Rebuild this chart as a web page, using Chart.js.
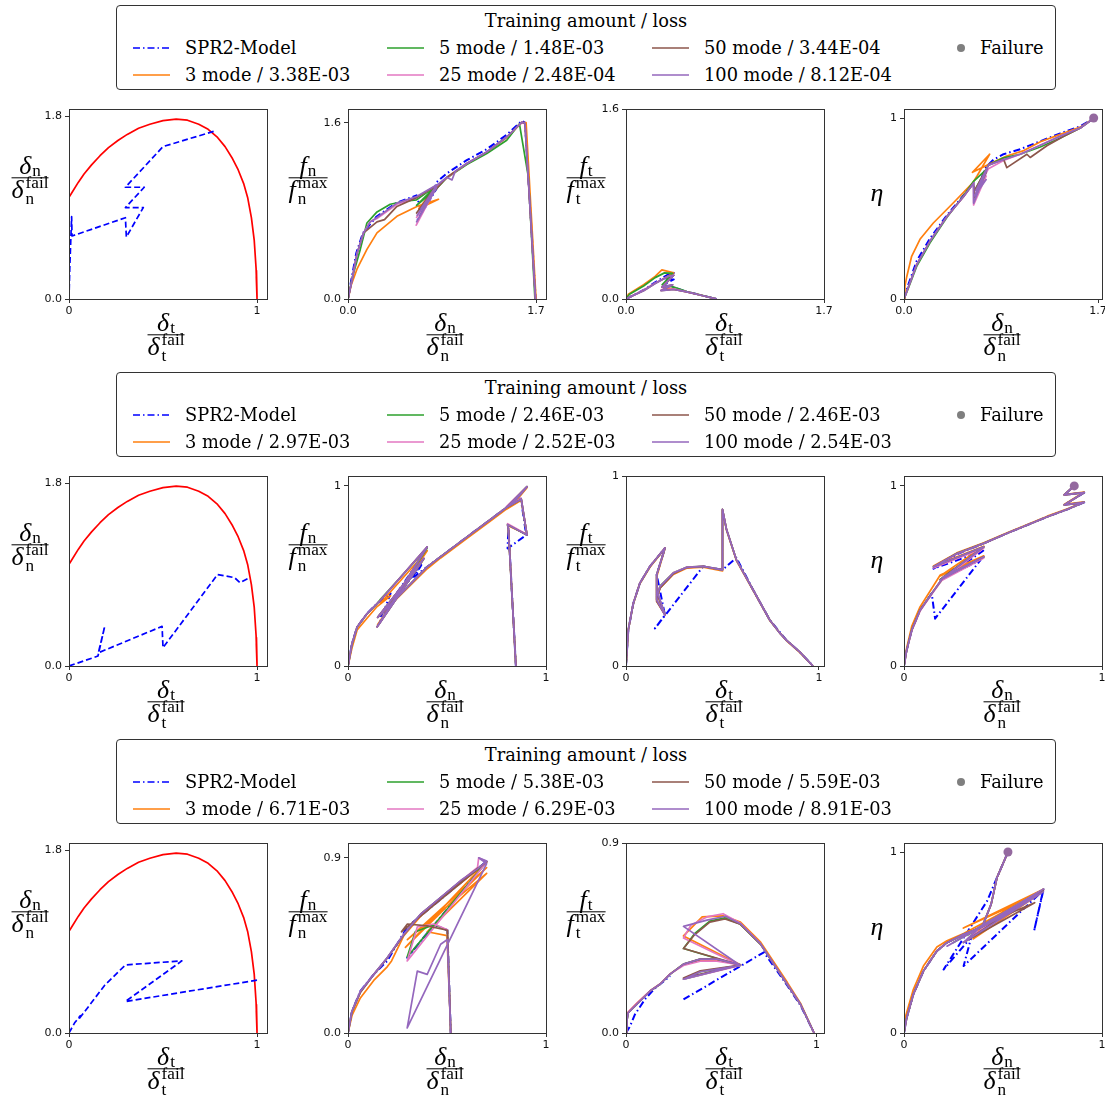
<!DOCTYPE html>
<html>
<head>
<meta charset="utf-8">
<script src="https://cdn.jsdelivr.net/npm/chart.js@4.4.1/dist/chart.umd.min.js"></script>
<style>
  body { margin: 0; background: #fff; }
  #page { position: relative; width: 1105px; height: 1096px; overflow: hidden; background: #fff; }
  canvas { position: absolute; }
  .legend { position: absolute; border: 1px solid #333; border-radius: 4px; box-sizing: border-box;
            font-family: 'DejaVu Serif', serif; font-size: 17.8px; color: #000; }
  .legend .title { position: absolute; left: 0; right: 0; text-align: center; line-height: 1; transform: translateY(-50%); }
  .legend .item { position: absolute; white-space: nowrap; line-height: 1; transform: translateY(-50%); }
  .legend svg { position: absolute; overflow: visible; }
  .math { position: absolute; font-family: 'Liberation Serif', 'DejaVu Serif', serif; font-size: 26px; color: #000;
          transform: translate(-50%, -50%); display: flex; flex-direction: column; align-items: center; }
  .math .part { height: 21px; display: flex; align-items: center; white-space: nowrap; }
  .math .bar { align-self: stretch; height: 1.4px; background: #000; margin: 1px 0; }
  .math i { font-style: italic; }
  .math .sb { font-size: 0.66em; position: relative; top: 0.3em; margin-left: 1px; }
  .math .ss { display: inline-flex; flex-direction: column; font-size: 0.66em; line-height: 0.9; margin-left: 2px; position: relative; top: 0.05em; }
</style>
</head>
<body>
<div id="page"></div>
<script>
// failure envelope (δt, δn), same for every loading case
const envelope = [[0,1.0],[0.02,1.06],[0.05,1.15],[0.08,1.23],[0.12,1.32],[0.165,1.41],[0.21,1.49],[0.26,1.56],
  [0.31,1.62],[0.37,1.68],[0.43,1.72],[0.5,1.755],[0.57,1.77],[0.63,1.76],[0.69,1.72],[0.74,1.67],[0.79,1.59],
  [0.83,1.5],[0.87,1.38],[0.9,1.27],[0.93,1.13],[0.95,1.0],[0.97,0.8],[0.985,0.58],[0.995,0.3],[1.0,0],
  [0.997,0.28],[1.0,0.02],[0.996,0.22],[1.0,0]];

// SPR2 displacement paths (δt, δn)
const r1Path = [[0,0],[0.004,0.3],[0.014,0.81],[0.016,0.62],[0.3,0.8],[0.305,0.61],[0.395,0.9],[0.3,0.9],
  [0.4,1.1],[0.3,1.1],[0.5,1.5],[0.77,1.65]];
const r2Path = [[0,0],[0.154,0.098],[0.19,0.39],[0.156,0.13],[0.495,0.39],[0.5,0.18],[0.79,0.9],[0.88,0.87],
  [0.91,0.82],[0.96,0.87]];
const r3Path = [[0,0],[0.03,0.1],[0.06,0.17],[0.05,0.13],[0.19,0.47],[0.3,0.67],[0.6,0.71],[0.3,0.31],[1.0,0.52]];

// case 1: normal force
const r1FnSpr2 = [[0,0],[0.03,0.175],[0.075,0.417],[0.135,0.598],[0.255,0.745],[0.442,0.875],[0.62,0.94],[0.66,0.8],
  [0.8,1.0],[0.63,0.72],[0.78,0.98],[0.8,1.06],[0.894,1.14],[1.074,1.26],[1.255,1.36],[1.435,1.49],[1.571,1.615],
  [1.6,1.6],[1.697,0]];
const r1FnM3 = [[0,0],[0.03,0.13],[0.081,0.27],[0.171,0.45],[0.262,0.6],[0.442,0.75],[0.623,0.84],[0.818,0.905],
  [0.64,0.82],[0.8,1.02],[0.894,1.1],[1.074,1.225],[1.255,1.33],[1.435,1.465],[1.571,1.6],[1.61,1.6],[1.7,0]];
const r1FnM5 = [[0,0],[0.04,0.2],[0.111,0.45],[0.171,0.69],[0.262,0.79],[0.382,0.86],[0.533,0.89],[0.62,0.9],
  [0.8,1.03],[0.62,0.85],[0.8,1.0],[0.894,1.1],[1.074,1.22],[1.255,1.32],[1.435,1.44],[1.55,1.59],[1.63,1.11],[1.69,0]];
const r1FnM25 = [[0,0],[0.036,0.17],[0.081,0.41],[0.141,0.6],[0.2,0.7],[0.262,0.73],[0.442,0.86],[0.62,0.92],
  [0.8,1.03],[0.617,0.67],[0.79,1.0],[0.62,0.74],[0.8,1.02],[0.894,1.1],[1.074,1.23],[1.255,1.335],[1.435,1.47],
  [1.571,1.6],[1.6,1.59],[1.695,0]];
const r1FnM50 = [[0,0],[0.036,0.17],[0.081,0.41],[0.141,0.6],[0.262,0.7],[0.33,0.72],[0.442,0.84],[0.62,0.92],
  [0.8,1.03],[0.62,0.78],[0.8,1.0],[0.894,1.105],[1.074,1.23],[1.255,1.335],[1.435,1.47],[1.571,1.605],[1.6,1.59],[1.695,0]];
const r1FnM100 = [[0,0],[0.036,0.17],[0.081,0.41],[0.141,0.6],[0.2,0.7],[0.262,0.74],[0.442,0.87],[0.62,0.93],
  [0.8,1.035],[0.62,0.7],[0.79,0.99],[0.625,0.76],[0.8,1.01],[0.66,0.82],[0.8,1.03],[0.894,1.105],[0.94,1.08],
  [0.97,1.16],[1.074,1.23],[1.255,1.335],[1.435,1.47],[1.571,1.605],[1.6,1.595],[1.695,0]];

// case 1: tangential force
const r1FtSpr2 = [[0,0],[0.06,0.03],[0.151,0.076],[0.25,0.14],[0.35,0.2],[0.41,0.22],[0.33,0.16],[0.41,0.165],
  [0.32,0.12],[0.4,0.1],[0.522,0.062],[0.636,0.034],[0.779,0]];
const r1FtM3 = [[0,0],[0.02,0.04],[0.151,0.12],[0.25,0.19],[0.308,0.245],[0.41,0.22],[0.32,0.17],[0.41,0.2],
  [0.31,0.1],[0.4,0.085],[0.522,0.06],[0.636,0.034],[0.779,0]];
const r1FtM5 = [[0,0],[0.03,0.04],[0.151,0.11],[0.25,0.18],[0.33,0.22],[0.4,0.215],[0.31,0.12],[0.41,0.1],
  [0.522,0.062],[0.636,0.035],[0.78,0]];
const r1FtM25 = [[0,0],[0.04,0.02],[0.151,0.075],[0.25,0.135],[0.36,0.19],[0.41,0.2],[0.31,0.1],[0.4,0.12],
  [0.3,0.075],[0.41,0.085],[0.522,0.06],[0.636,0.034],[0.78,0]];
const r1FtM50 = [[0,0.08],[0,0],[0.04,0.02],[0.151,0.07],[0.25,0.13],[0.36,0.19],[0.41,0.2],[0.31,0.1],[0.4,0.12],
  [0.3,0.07],[0.41,0.08],[0.522,0.06],[0.636,0.034],[0.78,0]];
const r1FtM100 = [[0,0],[0.04,0.02],[0.151,0.07],[0.25,0.13],[0.36,0.19],[0.41,0.2],[0.31,0.1],[0.4,0.12],
  [0.3,0.07],[0.41,0.08],[0.522,0.06],[0.636,0.034],[0.78,0]];

// case 1: damage
const r1EtaSpr2 = [[0,0],[0.038,0.08],[0.111,0.21],[0.228,0.335],[0.375,0.462],[0.521,0.572],[0.609,0.643],[0.62,0.55],
  [0.7,0.68],[0.62,0.58],[0.72,0.73],[0.784,0.77],[0.872,0.8],[1.018,0.828],[1.194,0.872],[1.369,0.915],
  [1.545,0.955],[1.662,0.998]];
const r1EtaM3 = [[0,0],[0.008,0.07],[0.023,0.12],[0.067,0.236],[0.14,0.33],[0.257,0.42],[0.433,0.532],[0.6,0.64],
  [0.64,0.68],[0.75,0.8],[0.6,0.7],[0.78,0.755],[0.9,0.79],[1.05,0.82],[1.2,0.87],[1.37,0.91],[1.545,0.95],[1.662,0.998]];
const r1EtaM5 = [[0,0],[0.038,0.06],[0.111,0.18],[0.228,0.31],[0.375,0.45],[0.521,0.57],[0.609,0.65],[0.73,0.72],
  [0.62,0.6],[0.74,0.74],[0.872,0.78],[1.018,0.8],[1.194,0.84],[1.369,0.89],[1.545,0.945],[1.662,0.998]];
const r1EtaM25 = [[0,0],[0.038,0.065],[0.111,0.19],[0.228,0.32],[0.375,0.455],[0.521,0.565],[0.609,0.64],[0.61,0.52],
  [0.72,0.68],[0.61,0.56],[0.74,0.72],[0.872,0.765],[1.018,0.8],[1.194,0.85],[1.369,0.9],[1.545,0.945],[1.662,0.998]];
const r1EtaM50 = [[0,0],[0.038,0.065],[0.111,0.19],[0.228,0.32],[0.375,0.455],[0.521,0.565],[0.609,0.64],[0.62,0.56],
  [0.72,0.7],[0.62,0.6],[0.74,0.74],[0.872,0.773],[0.901,0.726],[1.077,0.8],[1.106,0.782],[1.252,0.847],[1.4,0.9],
  [1.545,0.945],[1.662,0.998]];
const r1EtaM100 = [[0,0],[0.038,0.065],[0.111,0.19],[0.228,0.32],[0.375,0.455],[0.521,0.565],[0.609,0.64],[0.61,0.53],
  [0.73,0.72],[0.62,0.57],[0.72,0.66],[0.63,0.6],[0.74,0.74],[0.872,0.77],[1.018,0.8],[1.194,0.85],[1.369,0.9],
  [1.545,0.945],[1.662,0.998]];
const r1Fail = [1.662, 1.0];

// case 2: normal force
const r2FnSpr2 = [[0,0],[0.02,0.124],[0.046,0.217],[0.096,0.291],[0.147,0.347],[0.215,0.403],[0.16,0.24],[0.37,0.6],
  [0.16,0.27],[0.37,0.56],[0.333,0.495],[0.468,0.607],[0.603,0.718],[0.738,0.829],[0.806,0.885],[0.873,0.93],
  [0.9,0.727],[0.806,0.653],[0.81,0.77],[0.848,0]];
const r2FnM3 = [[0,0],[0.02,0.1],[0.046,0.2],[0.096,0.265],[0.147,0.33],[0.215,0.39],[0.164,0.35],[0.4,0.64],
  [0.15,0.23],[0.38,0.59],[0.16,0.28],[0.4,0.54],[0.468,0.6],[0.603,0.71],[0.738,0.82],[0.84,0.905],[0.904,0.99],
  [0.8,0.87],[0.875,0.92],[0.904,0.73],[0.806,0.78],[0.81,0.76],[0.848,0]];
const r2FnM5 = [[0,0],[0.02,0.12],[0.046,0.215],[0.096,0.29],[0.147,0.345],[0.164,0.37],[0.4,0.655],[0.148,0.22],
  [0.383,0.595],[0.15,0.27],[0.4,0.55],[0.468,0.607],[0.603,0.718],[0.738,0.829],[0.84,0.913],[0.904,0.996],
  [0.8,0.88],[0.875,0.926],[0.904,0.727],[0.806,0.785],[0.81,0.76],[0.848,0]];
const r2FnM25 = [[0,0],[0.02,0.122],[0.046,0.216],[0.096,0.29],[0.147,0.346],[0.164,0.366],[0.4,0.66],[0.147,0.218],
  [0.383,0.598],[0.15,0.27],[0.4,0.55],[0.468,0.607],[0.603,0.718],[0.738,0.829],[0.84,0.913],[0.904,0.996],
  [0.8,0.885],[0.875,0.93],[0.904,0.73],[0.806,0.79],[0.81,0.765],[0.848,0]];
const r2FnM50 = [[0,0],[0.02,0.123],[0.046,0.217],[0.096,0.29],[0.147,0.347],[0.164,0.365],[0.4,0.662],[0.147,0.217],
  [0.383,0.597],[0.15,0.27],[0.4,0.55],[0.468,0.607],[0.603,0.718],[0.738,0.829],[0.84,0.913],[0.904,0.996],
  [0.8,0.88],[0.875,0.926],[0.904,0.727],[0.806,0.785],[0.81,0.76],[0.848,0]];
const r2FnM100 = [[0,0],[0.02,0.124],[0.046,0.217],[0.096,0.291],[0.147,0.347],[0.164,0.365],[0.4,0.662],
  [0.147,0.217],[0.383,0.597],[0.15,0.27],[0.4,0.55],[0.468,0.607],[0.603,0.718],[0.738,0.829],[0.84,0.913],
  [0.904,0.996],[0.8,0.88],[0.875,0.926],[0.904,0.727],[0.806,0.785],[0.81,0.76],[0.848,0]];

// case 2: tangential force
const r2FtSpr2 = [[0,0],[0.012,0.19],[0.038,0.33],[0.072,0.436],[0.124,0.524],[0.202,0.621],[0.159,0.48],
  [0.202,0.268],[0.15,0.198],[0.4,0.524],[0.5,0.506],[0.572,0.57],[0.659,0.4],[0.745,0.242],[0.831,0.136],
  [0.9,0.074],[0.969,0]];
const r2FtM3 = [[0,0],[0.01,0.18],[0.036,0.32],[0.07,0.43],[0.124,0.52],[0.202,0.618],[0.159,0.47],[0.159,0.34],
  [0.202,0.27],[0.165,0.37],[0.176,0.41],[0.245,0.482],[0.314,0.515],[0.4,0.52],[0.5,0.5],[0.5,0.82],[0.521,0.714],
  [0.572,0.555],[0.659,0.397],[0.745,0.24],[0.8,0.17],[0.831,0.134],[0.9,0.072],[0.969,0]];
const r2FtM5 = [[0,0],[0.012,0.19],[0.038,0.33],[0.072,0.436],[0.124,0.524],[0.202,0.621],[0.159,0.48],[0.159,0.35],
  [0.202,0.27],[0.165,0.38],[0.176,0.42],[0.245,0.49],[0.314,0.52],[0.4,0.524],[0.5,0.506],[0.5,0.824],[0.521,0.718],
  [0.572,0.559],[0.659,0.4],[0.745,0.242],[0.8,0.17],[0.831,0.136],[0.9,0.074],[0.969,0]];
const r2FtM25 = [[0,0],[0.012,0.19],[0.038,0.332],[0.072,0.437],[0.124,0.525],[0.202,0.622],[0.159,0.48],[0.159,0.35],
  [0.202,0.268],[0.165,0.38],[0.176,0.418],[0.245,0.49],[0.314,0.52],[0.4,0.525],[0.5,0.506],[0.5,0.824],
  [0.521,0.718],[0.572,0.559],[0.659,0.4],[0.745,0.242],[0.8,0.17],[0.831,0.136],[0.9,0.074],[0.969,0]];
const r2FtM50 = [[0,0],[0.012,0.19],[0.038,0.33],[0.072,0.436],[0.124,0.524],[0.202,0.621],[0.159,0.48],[0.159,0.34],
  [0.202,0.27],[0.165,0.37],[0.176,0.41],[0.245,0.485],[0.314,0.518],[0.4,0.524],[0.5,0.506],[0.5,0.824],
  [0.521,0.718],[0.572,0.559],[0.659,0.4],[0.745,0.242],[0.8,0.17],[0.831,0.136],[0.9,0.074],[0.969,0]];
const r2FtM100 = [[0,0],[0.012,0.19],[0.038,0.33],[0.072,0.436],[0.124,0.524],[0.202,0.621],[0.159,0.48],
  [0.159,0.347],[0.202,0.268],[0.165,0.38],[0.176,0.418],[0.245,0.489],[0.314,0.519],[0.4,0.524],[0.5,0.506],
  [0.5,0.824],[0.521,0.718],[0.572,0.559],[0.659,0.4],[0.745,0.242],[0.8,0.17],[0.831,0.136],[0.9,0.074],[0.969,0]];

// case 2: damage
const r2EtaSpr2 = [[0,0],[0.0135,0.087],[0.039,0.199],[0.081,0.31],[0.14,0.403],[0.157,0.263],[0.386,0.588],
  [0.2,0.49],[0.4,0.64],[0.149,0.54],[0.267,0.62],[0.403,0.681],[0.521,0.737],[0.623,0.783],[0.724,0.829],
  [0.826,0.87],[0.91,0.909],[0.809,0.894],[0.91,0.963],[0.809,0.95],[0.86,1.0]];
const r2EtaM3 = [[0,0],[0.0135,0.1],[0.039,0.22],[0.081,0.328],[0.14,0.43],[0.183,0.505],[0.403,0.612],[0.183,0.5],
  [0.403,0.665],[0.149,0.555],[0.267,0.628],[0.403,0.684],[0.521,0.74],[0.623,0.786],[0.724,0.832],[0.826,0.873],
  [0.91,0.912],[0.809,0.897],[0.91,0.966],[0.809,0.952],[0.86,1.0]];
const r2EtaM5 = [[0,0],[0.0135,0.087],[0.039,0.199],[0.081,0.31],[0.14,0.403],[0.2,0.49],[0.403,0.605],[0.183,0.48],
  [0.403,0.66],[0.149,0.55],[0.267,0.625],[0.403,0.681],[0.521,0.737],[0.623,0.783],[0.724,0.829],[0.826,0.87],
  [0.91,0.909],[0.809,0.894],[0.91,0.963],[0.809,0.95],[0.86,1.0]];
const r2EtaM25 = [[0,0],[0.0135,0.085],[0.039,0.195],[0.081,0.305],[0.14,0.398],[0.2,0.49],[0.403,0.6],[0.183,0.47],
  [0.403,0.655],[0.149,0.545],[0.267,0.622],[0.403,0.68],[0.521,0.737],[0.623,0.783],[0.724,0.829],[0.826,0.87],
  [0.91,0.909],[0.809,0.894],[0.91,0.963],[0.809,0.95],[0.86,1.0]];
const r2EtaM50 = [[0,0],[0.0135,0.087],[0.039,0.199],[0.081,0.31],[0.14,0.403],[0.2,0.495],[0.403,0.607],[0.183,0.48],
  [0.403,0.662],[0.149,0.551],[0.267,0.625],[0.403,0.681],[0.521,0.737],[0.623,0.783],[0.724,0.829],[0.826,0.87],
  [0.91,0.909],[0.809,0.894],[0.91,0.963],[0.809,0.95],[0.86,1.0]];
const r2EtaM100 = [[0,0],[0.0135,0.087],[0.039,0.199],[0.081,0.31],[0.14,0.403],[0.2,0.495],[0.403,0.607],
  [0.183,0.477],[0.403,0.662],[0.149,0.551],[0.267,0.625],[0.403,0.681],[0.521,0.737],[0.623,0.783],[0.724,0.829],
  [0.826,0.87],[0.91,0.909],[0.809,0.894],[0.91,0.963],[0.809,0.95],[0.86,1.0]];
const r2Fail = [0.86, 1.0];

// case 3: normal force
const r3FnSpr2 = [[0,0],[0.02,0.112],[0.0625,0.215],[0.13,0.301],[0.198,0.37],[0.299,0.545],[0.701,0.883],
  [0.299,0.387],[0.434,0.556],[0.502,0.528],[0.519,0]];
const r3FnM3 = [[0,0],[0.02,0.09],[0.0625,0.18],[0.13,0.27],[0.198,0.34],[0.22,0.37],[0.282,0.5],[0.367,0.6],
  [0.468,0.69],[0.569,0.77],[0.654,0.84],[0.701,0.88],[0.29,0.44],[0.7,0.85],[0.3,0.48],[0.7,0.82],[0.4,0.52],
  [0.5,0.5],[0.519,0]];
const r3FnM5 = [[0,0],[0.02,0.11],[0.0625,0.21],[0.13,0.3],[0.198,0.385],[0.282,0.505],[0.367,0.61],[0.468,0.695],
  [0.569,0.78],[0.654,0.84],[0.701,0.88],[0.299,0.39],[0.34,0.52],[0.434,0.556],[0.502,0.528],[0.519,0]];
const r3FnM25 = [[0,0],[0.02,0.11],[0.0625,0.21],[0.13,0.3],[0.198,0.385],[0.282,0.505],[0.367,0.61],[0.468,0.695],
  [0.569,0.78],[0.654,0.85],[0.66,0.9],[0.701,0.88],[0.299,0.37],[0.35,0.545],[0.434,0.56],[0.502,0.53],[0.519,0]];
const r3FnM50 = [[0,0],[0.02,0.11],[0.0625,0.21],[0.13,0.3],[0.198,0.385],[0.282,0.505],[0.367,0.61],[0.468,0.695],
  [0.569,0.78],[0.654,0.845],[0.701,0.88],[0.27,0.52],[0.3,0.56],[0.4,0.55],[0.502,0.528],[0.519,0]];
const r3FnM100 = [[0,0],[0.02,0.112],[0.0625,0.215],[0.13,0.301],[0.198,0.387],[0.282,0.508],[0.367,0.611],
  [0.468,0.697],[0.569,0.783],[0.654,0.843],[0.701,0.883],[0.66,0.9],[0.7,0.87],[0.299,0.026],[0.35,0.318],
  [0.4,0.301],[0.468,0.456],[0.502,0.48],[0.519,0]];

// case 3: tangential force (null = pen up)
const r3FtSpr2 = [[0,0],[0.02,0.03],[0.047,0.088],[0.1,0.16],[0.15,0.21],[0.232,0.27],null,[0.302,0.159],
  [0.724,0.382],[0.777,0.315],[0.847,0.225],[0.917,0.13],[0.988,0]];
const r3FtM3 = [[0,0],[0.002,0.09],[0.056,0.14],[0.127,0.2],[0.179,0.232],[0.232,0.28],[0.302,0.325],[0.39,0.345],
  [0.478,0.345],[0.601,0.323],[0.302,0.46],[0.4,0.55],[0.51,0.555],[0.601,0.525],[0.707,0.43],[0.777,0.335],
  [0.847,0.24],[0.917,0.14],[0.988,0]];
const r3FtM5 = [[0,0],[0.005,0.06],[0.012,0.096],[0.056,0.135],[0.127,0.199],[0.179,0.231],[0.232,0.279],
  [0.302,0.326],[0.39,0.35],[0.478,0.35],[0.601,0.323],[0.302,0.255],[0.39,0.29],[0.601,0.32],[0.302,0.4],
  [0.36,0.47],[0.44,0.53],[0.52,0.545],[0.601,0.515],[0.707,0.42],[0.777,0.325],[0.847,0.23],[0.917,0.135],[0.988,0]];
const r3FtM25 = [[0,0],[0.005,0.07],[0.012,0.1],[0.056,0.14],[0.127,0.2],[0.179,0.232],[0.232,0.28],[0.302,0.32],
  [0.39,0.34],[0.478,0.34],[0.601,0.323],[0.302,0.255],[0.601,0.32],[0.302,0.45],[0.34,0.51],[0.425,0.55],
  [0.51,0.565],[0.601,0.52],[0.707,0.422],[0.777,0.326],[0.847,0.231],[0.917,0.135],[0.988,0]];
const r3FtM50 = [[0,0],[0.005,0.06],[0.012,0.096],[0.056,0.135],[0.127,0.199],[0.179,0.231],[0.232,0.279],
  [0.302,0.326],[0.39,0.35],[0.478,0.35],[0.601,0.323],[0.302,0.26],[0.39,0.295],[0.601,0.322],[0.302,0.4],
  [0.36,0.465],[0.44,0.525],[0.52,0.54],[0.601,0.515],[0.707,0.42],[0.777,0.325],[0.847,0.23],[0.917,0.135],[0.988,0]];
const r3FtM100 = [[0,0],[0.005,0.06],[0.012,0.096],[0.056,0.135],[0.127,0.199],[0.179,0.231],[0.232,0.279],
  [0.302,0.326],[0.39,0.35],[0.478,0.35],[0.601,0.323],[0.302,0.255],[0.39,0.29],[0.601,0.32],[0.302,0.505],
  [0.425,0.535],[0.522,0.553],[0.601,0.518],[0.707,0.422],[0.777,0.326],[0.847,0.231],[0.917,0.135],[0.988,0]];

// case 3: damage
const r3EtaSpr2 = [[0,0],[0.0135,0.083],[0.047,0.213],[0.098,0.342],[0.166,0.453],[0.217,0.499],[0.301,0.545],
  [0.386,0.582],[0.487,0.638],[0.589,0.712],[0.704,0.795],[0.657,0.564],[0.704,0.79],[0.301,0.37],[0.34,0.53],
  [0.2,0.351],[0.42,0.73],[0.47,0.86],[0.525,1.0]];
const r3EtaM3 = [[0,0],[0.01,0.1],[0.047,0.24],[0.098,0.37],[0.166,0.475],[0.217,0.51],[0.301,0.55],[0.386,0.6],
  [0.487,0.66],[0.589,0.73],[0.704,0.795],[0.3,0.58],[0.7,0.78],[0.35,0.52],[0.4,0.6],[0.44,0.712],[0.47,0.86],[0.525,1.0]];
const r3EtaM5 = [[0,0],[0.0135,0.083],[0.047,0.213],[0.098,0.342],[0.166,0.453],[0.217,0.499],[0.301,0.545],
  [0.386,0.582],[0.487,0.638],[0.589,0.712],[0.704,0.795],[0.25,0.5],[0.7,0.78],[0.32,0.54],[0.4,0.6],[0.44,0.712],
  [0.47,0.86],[0.525,1.0]];
const r3EtaM25 = [[0,0],[0.0135,0.083],[0.047,0.213],[0.098,0.342],[0.166,0.453],[0.217,0.499],[0.301,0.545],
  [0.386,0.582],[0.487,0.638],[0.589,0.712],[0.704,0.795],[0.3,0.53],[0.7,0.79],[0.32,0.52],[0.4,0.6],[0.44,0.712],
  [0.47,0.86],[0.525,1.0]];
const r3EtaM50 = [[0,0],[0.0135,0.083],[0.047,0.213],[0.098,0.342],[0.166,0.453],[0.217,0.499],[0.301,0.545],
  [0.386,0.582],[0.487,0.638],[0.589,0.712],[0.704,0.79],[0.3,0.5],[0.66,0.72],[0.4,0.6],[0.44,0.71],[0.47,0.86],[0.525,1.0]];
const r3EtaM100 = [[0,0],[0.0135,0.083],[0.047,0.213],[0.098,0.342],[0.166,0.453],[0.217,0.499],[0.301,0.545],
  [0.386,0.582],[0.487,0.638],[0.589,0.712],[0.704,0.795],[0.217,0.48],[0.704,0.78],[0.3,0.5],[0.4,0.6],[0.44,0.712],
  [0.47,0.86],[0.525,1.0]];
const r3Fail = [0.525, 1.0];

// legend losses, in order 3 / 5 / 25 / 50 / 100 modes
const modeNames = ['3 mode', '5 mode', '25 mode', '50 mode', '100 mode'];
const r1Loss = ['3.38E-03', '1.48E-03', '2.48E-04', '3.44E-04', '8.12E-04'];
const r2Loss = ['2.97E-03', '2.46E-03', '2.52E-03', '2.46E-03', '2.54E-03'];
const r3Loss = ['6.71E-03', '5.38E-03', '6.29E-03', '5.59E-03', '8.91E-03'];

// axis ranges [xmax, ymax] and ticks, per panel
const r1Lims = [[1.053, 1.87], [1.79, 1.724], [1.7, 1.6], [1.735, 1.05]];
const r2Lims = [[1.053, 1.87], [1.0, 1.055], [1.026, 1.0], [1.0, 1.055]];
const r3Lims = [[1.053, 1.87], [1.0, 0.976], [1.04, 0.9], [1.0, 1.05]];
const r1XTicks = [[0, 1], [0, 1.7], [0, 1.7], [0, 1.7]];
const r1XLabels = [['0', '1'], ['0.0', '1.7'], ['0.0', '1.7'], ['0.0', '1.7']];
const r1YTicks = [[0, 1.8], [0, 1.6], [0, 1.6], [0, 1]];
const r1YLabels = [['0.0', '1.8'], ['0.0', '1.6'], ['0.0', '1.6'], ['0', '1']];
const r2XTicks = [[0, 1], [0, 1], [0, 1], [0, 1]];
const r2XLabels = [['0', '1'], ['0', '1'], ['0', '1'], ['0', '1']];
const r2YTicks = [[0, 1.8], [0, 1], [0, 1], [0, 1]];
const r2YLabels = [['0.0', '1.8'], ['0', '1'], ['0', '1'], ['0', '1']];
const r3XTicks = [[0, 1], [0, 1], [0, 1], [0, 1]];
const r3XLabels = [['0', '1'], ['0', '1'], ['0', '1'], ['0', '1']];
const r3YTicks = [[0, 1.8], [0, 0.9], [0, 0.9], [0, 1]];
const r3YLabels = [['0.0', '1.8'], ['0.0', '0.9'], ['0.0', '0.9'], ['0', '1']];

const rows = [
  { path: r1Path, fn: [r1FnSpr2, r1FnM3, r1FnM5, r1FnM25, r1FnM50, r1FnM100],
    ft: [r1FtSpr2, r1FtM3, r1FtM5, r1FtM25, r1FtM50, r1FtM100],
    eta: [r1EtaSpr2, r1EtaM3, r1EtaM5, r1EtaM25, r1EtaM50, r1EtaM100], fail: r1Fail,
    lims: r1Lims, xt: r1XTicks, xl: r1XLabels, yt: r1YTicks, yl: r1YLabels, loss: r1Loss },
  { path: r2Path, fn: [r2FnSpr2, r2FnM3, r2FnM5, r2FnM25, r2FnM50, r2FnM100],
    ft: [r2FtSpr2, r2FtM3, r2FtM5, r2FtM25, r2FtM50, r2FtM100],
    eta: [r2EtaSpr2, r2EtaM3, r2EtaM5, r2EtaM25, r2EtaM50, r2EtaM100], fail: r2Fail,
    lims: r2Lims, xt: r2XTicks, xl: r2XLabels, yt: r2YTicks, yl: r2YLabels, loss: r2Loss },
  { path: r3Path, fn: [r3FnSpr2, r3FnM3, r3FnM5, r3FnM25, r3FnM50, r3FnM100],
    ft: [r3FtSpr2, r3FtM3, r3FtM5, r3FtM25, r3FtM50, r3FtM100],
    eta: [r3EtaSpr2, r3EtaM3, r3EtaM5, r3EtaM25, r3EtaM50, r3EtaM100], fail: r3Fail,
    lims: r3Lims, xt: r3XTicks, xl: r3XLabels, yt: r3YTicks, yl: r3YLabels, loss: r3Loss }
];

// SPR2, then modes 3/5/25/50/100; higher order is drawn first (underneath)
const seriesColors = ['#0000ff', '#ff7f0e', '#2ca02c', '#e377c2', '#8c564b', '#9467bd'];
const seriesOrder = [6, 5, 4, 3, 2, 1];
const failColor = '#94699f';

const page = document.getElementById('page');
const ROW_STEP = 367;
const PLOT_LEFT = [69, 348, 626, 904];
const PLOT_TOP = 109;
const PLOT_W = 198, PLOT_H = 190;
const Y_AXIS_W = 40, X_AXIS_H = 22, PAD_TOP = 10, PAD_RIGHT = 14;
const tickFont = { family: 'DejaVu Sans', size: 11 };

const framePlugin = {
  id: 'frame',
  afterDraw(chart) {
    const { ctx, chartArea: a } = chart;
    ctx.save();
    ctx.strokeStyle = '#333';
    ctx.lineWidth = 1;
    ctx.strokeRect(Math.round(a.left) + 0.5, Math.round(a.top) + 0.5,
      Math.round(a.right - a.left), Math.round(a.bottom - a.top));
    ctx.restore();
  }
};

function pts(arr) {
  return arr.map((p) => (p ? { x: p[0], y: p[1] } : { x: NaN, y: NaN }));
}

function lineSet(arr, color, extra) {
  return Object.assign({
    data: pts(arr), showLine: true, spanGaps: false, borderColor: color, backgroundColor: color, borderWidth: 1.7,
    pointRadius: 0, tension: 0, fill: false, borderJoinStyle: 'round', borderCapStyle: 'butt'
  }, extra || {});
}

function axis(max, ticks, labels, isX) {
  return {
    type: 'linear', min: 0, max: max,
    afterBuildTicks: (s) => { s.ticks = ticks.map((v) => ({ value: v })); },
    afterFit: (s) => { if (isX) s.height = X_AXIS_H; else s.width = Y_AXIS_W; },
    ticks: { font: tickFont, color: '#111', padding: isX ? 2 : 3, maxRotation: 0, autoSkip: false,
             callback: (v, i) => labels[i] },
    grid: { drawOnChartArea: false, drawTicks: true, tickLength: 4, color: '#333', lineWidth: 1 },
    border: { display: false }
  };
}

function panel(r, c, datasets) {
  const row = rows[r];
  const canvas = document.createElement('canvas');
  const w = PLOT_W + Y_AXIS_W + PAD_RIGHT, h = PLOT_H + X_AXIS_H + PAD_TOP;
  canvas.width = w; canvas.height = h;
  canvas.style.width = w + 'px'; canvas.style.height = h + 'px';
  canvas.style.left = (PLOT_LEFT[c] - Y_AXIS_W) + 'px';
  canvas.style.top = (PLOT_TOP + ROW_STEP * r - PAD_TOP) + 'px';
  page.appendChild(canvas);
  new Chart(canvas, {
    type: 'scatter',
    data: { datasets: datasets },
    options: {
      responsive: false, animation: false, devicePixelRatio: 1, events: [],
      layout: { padding: { top: PAD_TOP, right: PAD_RIGHT, left: 0, bottom: 0 } },
      plugins: { legend: { display: false }, tooltip: { enabled: false } },
      scales: {
        x: axis(row.lims[c][0], row.xt[c], row.xl[c], true),
        y: axis(row.lims[c][1], row.yt[c], row.yl[c], false)
      }
    },
    plugins: [framePlugin]
  });
}

function modeSets(list, fail) {
  const sets = list.map((arr, i) => lineSet(arr, seriesColors[i], i === 0
    ? { borderDash: [7, 3, 1.5, 3], borderWidth: 2, order: seriesOrder[i] }
    : { order: seriesOrder[i] }));
  if (fail) {
    sets.push({ data: [{ x: fail[0], y: fail[1] }], showLine: false, pointRadius: 4.5,
      backgroundColor: failColor, borderWidth: 0, order: -1 });
  }
  return sets;
}

function mathLabel(html, cx, cy) {
  const d = document.createElement('div');
  d.className = 'math';
  d.style.left = cx + 'px';
  d.style.top = cy + 'px';
  d.innerHTML = html;
  page.appendChild(d);
}

function frac(sym, sub, sup) {
  const s = '<i>' + sym + '</i>';
  return '<div class="part">' + s + '<span class="sb">' + sub + '</span></div><div class="bar"></div>' +
    '<div class="part">' + s + '<span class="ss"><span>' + sup + '</span><span>' + sub + '</span></span></div>';
}

function svgLine(color, dash) {
  return '<svg width="38" height="10" style="left:0;top:0"><line x1="0" y1="5" x2="37" y2="5" stroke="' + color +
    '" stroke-width="1.6"' + (dash ? ' stroke-dasharray="' + dash + '"' : '') + '/></svg>';
}

function legend(r) {
  const top = 5 + ROW_STEP * r, left = 116;
  const box = document.createElement('div');
  box.className = 'legend';
  box.style.left = left + 'px'; box.style.top = top + 'px';
  box.style.width = '940px'; box.style.height = '85px';
  let html = '<div class="title" style="top:15px">Training amount / loss</div>';
  const labels = ['SPR2-Model'].concat(modeNames.map((n, i) => n + ' / ' + rows[r].loss[i]));
  const colX = [132, 386, 651];
  const rowY = [42, 69];
  labels.forEach((txt, i) => {
    const col = Math.floor(i / 2), ln = i % 2;
    const x = colX[col] - left, y = rowY[ln];
    html += '<div class="item" style="left:' + x + 'px;top:' + y + 'px;width:40px;height:10px">' +
      '<div style="position:relative;top:0;height:10px">' +
      svgLine(seriesColors[i], i === 0 ? '7,3,1.5,3' : '') + '</div></div>';
    html += '<div class="item" style="left:' + (x + 52) + 'px;top:' + y + 'px">' + txt + '</div>';
  });
  html += '<div class="item" style="left:' + (960 - left - 4) + 'px;top:' + rowY[0] + 'px;width:8px;height:8px;' +
    'border-radius:50%;background:#7f7f7f"></div>';
  html += '<div class="item" style="left:' + (979 - left) + 'px;top:' + rowY[0] + 'px">Failure</div>';
  box.innerHTML = html;
  page.appendChild(box);
}

rows.forEach((row, r) => {
  legend(r);
  panel(r, 0, [
    lineSet(envelope, '#ff0000', { order: 1 }),
    lineSet(row.path, '#0000ff', { borderDash: [6, 3], order: 0 })
  ]);
  panel(r, 1, modeSets(row.fn));
  panel(r, 2, modeSets(row.ft));
  panel(r, 3, modeSets(row.eta, row.fail));

  const dy = ROW_STEP * r;
  const xBar = 335 + dy, yBar = 178 + dy;
  mathLabel(frac('δ', 't', 'fail'), 166, xBar);
  mathLabel(frac('δ', 'n', 'fail'), 445, xBar);
  mathLabel(frac('δ', 't', 'fail'), 724, xBar);
  mathLabel(frac('δ', 'n', 'fail'), 1002, xBar);
  mathLabel(frac('δ', 'n', 'fail'), 30, yBar);
  mathLabel(frac('f', 'n', 'max'), 308, yBar);
  mathLabel(frac('f', 't', 'max'), 586, yBar);
  mathLabel('<div class="part"><i>η</i></div>', 877, 192 + dy);
});
</script>
</body>
</html>
